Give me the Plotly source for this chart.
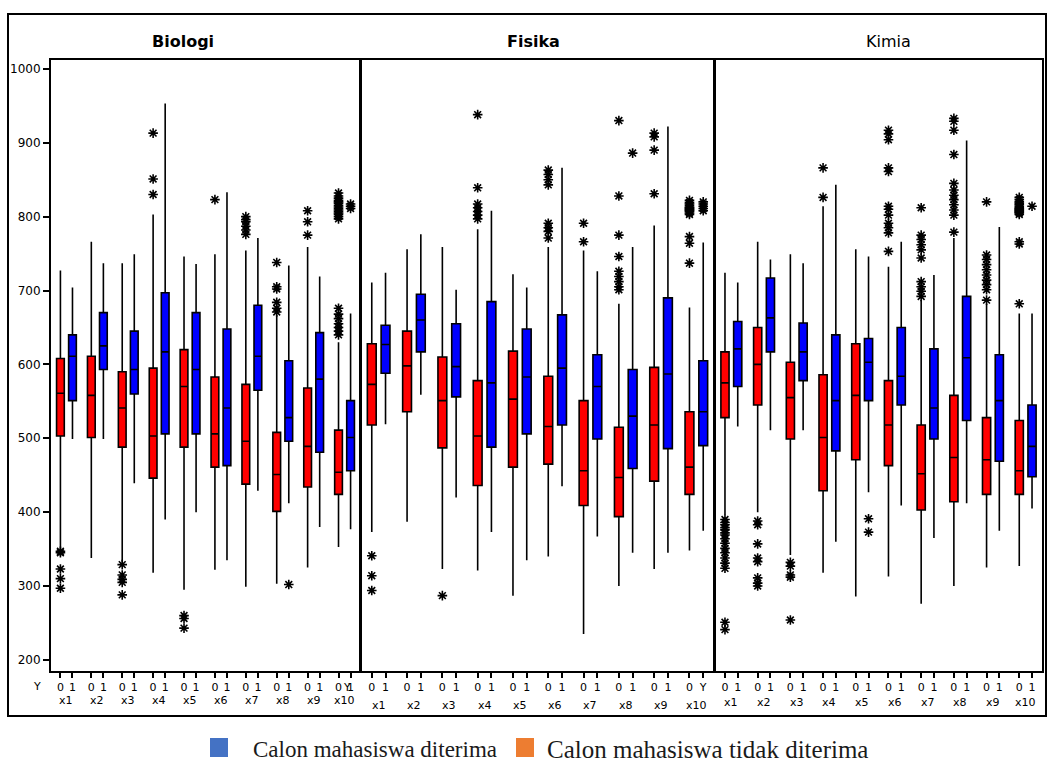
import plotly.graph_objects as go

# ---------------------------------------------------------------- data
subjects = ["Biologi", "Fisika", "Kimia"]
group_labels = ["x1", "x2", "x3", "x4", "x5", "x6", "x7", "x8", "x9", "x10"]
y_ticks = [200, 300, 400, 500, 600, 700, 800, 900, 1000]
legend_labels = ["Calon mahasiswa diterima", "Calon mahasiswa tidak diterima"]

# Y = 0 (tidak diterima), Biologi
bio0_lo = [351, 338, 333, 318, 295, 322, 299, 303, 325, 353]
bio0_q1 = [503, 501, 488, 446, 488, 461, 438, 401, 434, 424]
bio0_med = [561, 558, 541, 503, 570, 506, 496, 451, 489, 454]
bio0_q3 = [608, 611, 590, 595, 620, 583, 573, 508, 568, 511]
bio0_hi = [727, 766, 737, 803, 746, 749, 754, 667, 759, 630]
bio0_out = [
    [347, 345, 323, 310, 297],
    [],
    [329, 315, 309, 305, 288],
    [913, 851, 830],
    [260, 256, 243],
    [823],
    [800, 796, 793, 787, 782, 776],
    [738, 705, 702, 684, 676, 671],
    [808, 793, 775],
    [832, 828, 825, 822, 820, 818, 815, 813, 811, 809, 807, 805, 803, 800, 797,
     676, 668, 662, 655, 650, 645, 640],
]
# Y = 1 (diterima), Biologi
bio1_lo = [499, 499, 439, 390, 400, 335, 429, 412, 380, 377]
bio1_q1 = [551, 593, 560, 506, 506, 463, 565, 496, 481, 456]
bio1_med = [611, 625, 593, 617, 593, 541, 611, 528, 580, 501]
bio1_q3 = [640, 670, 645, 697, 670, 648, 680, 605, 643, 551]
bio1_hi = [704, 737, 749, 953, 736, 833, 771, 734, 719, 669]
bio1_out = [[], [], [], [], [], [], [], [302], [], [817, 814, 811]]

# Fisika
fis0_lo = [373, 387, 323, 321, 287, 340, 235, 300, 323, 348]
fis0_q1 = [518, 536, 487, 436, 461, 465, 409, 394, 442, 424]
fis0_med = [573, 598, 551, 503, 553, 516, 456, 447, 518, 461]
fis0_q3 = [628, 645, 610, 578, 618, 584, 551, 515, 596, 536]
fis0_hi = [711, 756, 759, 783, 722, 759, 754, 682, 788, 677]
fis0_out = [
    [341, 314, 294],
    [],
    [287],
    [938, 839, 817, 812, 807, 802, 797],
    [],
    [863, 857, 850, 843, 791, 785, 780, 771],
    [791, 766],
    [930, 828, 775, 746, 726, 719, 712, 705, 701],
    [913, 908, 890, 831],
    [822, 819, 817, 815, 813, 812, 811, 810, 809, 808, 807, 805, 803,
     773, 764, 737],
]
fis1_lo = [519, 559, 420, 373, 335, 435, 367, 345, 345, 375]
fis1_q1 = [588, 617, 556, 488, 506, 518, 499, 459, 486, 490]
fis1_med = [627, 660, 597, 575, 583, 595, 570, 530, 587, 536]
fis1_q3 = [653, 695, 655, 685, 648, 667, 613, 593, 690, 605]
fis1_hi = [724, 776, 701, 808, 704, 866, 726, 759, 922, 765]
fis1_out = [[], [], [], [], [], [], [], [886], [], [820, 817, 814, 811, 808]]

# Kimia
kim0_lo = [396, 400, 342, 318, 286, 313, 276, 300, 325, 327]
kim0_q1 = [528, 545, 499, 429, 471, 463, 403, 414, 424, 424]
kim0_med = [575, 600, 555, 501, 558, 518, 452, 474, 471, 456]
kim0_q3 = [617, 650, 603, 586, 628, 578, 518, 558, 528, 524]
kim0_hi = [724, 766, 749, 814, 756, 732, 687, 771, 682, 669]
kim0_out = [
    [390, 386, 383, 379, 376, 372, 369, 364, 358, 351, 345, 338, 331, 324, 251, 241],
    [388, 383, 357, 338, 333, 311, 304, 300],
    [332, 327, 315, 312, 254],
    [866, 826],
    [],
    [917, 912, 904, 866, 861, 814, 810, 802, 791, 785, 778, 753],
    [812, 775, 769, 762, 755, 744, 712, 705, 699, 692],
    [933, 929, 917, 884, 845, 836, 829, 823, 816, 809, 802, 779],
    [820, 748, 742, 735, 728, 721, 714, 708, 701, 687],
    [826, 823, 820, 818, 816, 814, 812, 811, 810, 809, 808, 807, 806, 805, 803,
     766, 763, 682],
]
kim1_lo = [516, 511, 511, 360, 427, 409, 365, 412, 375, 405]
kim1_q1 = [570, 617, 578, 483, 551, 545, 499, 524, 469, 448]
kim1_med = [621, 663, 617, 551, 603, 584, 541, 609, 551, 489]
kim1_q3 = [658, 717, 656, 640, 635, 650, 621, 692, 613, 545]
kim1_hi = [711, 742, 737, 843, 746, 766, 721, 903, 786, 669]
kim1_out = [[], [], [], [], [391, 373], [], [], [], [], [814]]

# ---------------------------------------------------------------- layout helpers
W, H = 1053, 765
RED, BLUE = "#FF0000", "#0000FF"
OFF = 0.195          # half distance between the "0" and "1" boxes of a group
BOX_W = 0.25
TICK_FONT = dict(family="DejaVu Sans", size=11, color="black")


def fx(p):
    return p / W


def fy(p):
    return 1 - p / H


panel_px = [(51, 360), (361, 714), (715, 1042)]
y_dom = [fy(671), fy(60)]
axis_ids = ["", "2", "3"]

stats = [
    [(bio0_lo, bio0_q1, bio0_med, bio0_q3, bio0_hi, bio0_out),
     (bio1_lo, bio1_q1, bio1_med, bio1_q3, bio1_hi, bio1_out)],
    [(fis0_lo, fis0_q1, fis0_med, fis0_q3, fis0_hi, fis0_out),
     (fis1_lo, fis1_q1, fis1_med, fis1_q3, fis1_hi, fis1_out)],
    [(kim0_lo, kim0_q1, kim0_med, kim0_q3, kim0_hi, kim0_out),
     (kim1_lo, kim1_q1, kim1_med, kim1_q3, kim1_hi, kim1_out)],
]

fig = go.Figure()
n = len(group_labels)

for p, aid in enumerate(axis_ids):
    xa, ya = "x" + aid, "y" + aid
    for g, colour in enumerate([RED, BLUE]):
        lo, q1, med, q3, hi, out = stats[p][g]
        pos = [i + (2 * g - 1) * OFF for i in range(n)]
        fig.add_trace(go.Box(
            x=pos, lowerfence=lo, q1=q1, median=med, q3=q3, upperfence=hi,
            orientation="v", width=BOX_W, whiskerwidth=0, boxpoints=False,
            fillcolor=colour, line=dict(color="black", width=1.6),
            xaxis=xa, yaxis=ya, showlegend=False, hoverinfo="skip",
        ))
        ox, oy = [], []
        for i, vals in enumerate(out):
            ox += [pos[i]] * len(vals)
            oy += vals
        fig.add_trace(go.Scatter(
            x=ox, y=oy, mode="markers", xaxis=xa, yaxis=ya,
            marker=dict(symbol="asterisk-open", size=8, color="black",
                        line=dict(color="black", width=1.6)),
            showlegend=False, hoverinfo="skip",
        ))

layout = dict(
    width=W, height=H, plot_bgcolor="white", paper_bgcolor="white",
    margin=dict(l=0, r=0, t=0, b=0, autoexpand=False),
    boxmode="overlay", showlegend=False,
)

for p, aid in enumerate(axis_ids):
    x0, x1 = panel_px[p]
    tickvals, ticktext = [], []
    for i in range(n):
        tickvals += [i - OFF, i + OFF]
        ticktext += ["0", "1"]
    if p == 1:
        ticktext[-1] = "Y"
    layout["xaxis" + aid] = dict(
        domain=[fx(x0), fx(x1)], range=[-0.5, 9.5], anchor="y" + aid,
        tickvals=tickvals, ticktext=ticktext, ticks="outside", ticklen=5,
        tickwidth=1.5, tickcolor="black", tickfont=TICK_FONT,
        showline=True, mirror=True, linecolor="black", linewidth=2,
        showgrid=False, zeroline=False,
    )
    yax = dict(
        domain=y_dom, range=[185, 1012], anchor="x" + aid,
        showline=True, mirror=True, linecolor="black", linewidth=2,
        showgrid=False, zeroline=False,
    )
    if p == 0:
        yax.update(tickvals=y_ticks, ticks="outside", ticklen=6, tickwidth=1.5,
                   tickcolor="black",
                   tickfont=dict(family="DejaVu Sans", size=12, color="black"))
    else:
        yax.update(matches="y", showticklabels=False, ticks="")
    layout["yaxis" + aid] = yax

fig.update_layout(**layout)

# group names under each pair of ticks
label_rows = [700, 705, 702]
for p, aid in enumerate(axis_ids):
    for i, lab in enumerate(group_labels):
        fig.add_annotation(x=i, y=fy(label_rows[p]), xref="x" + aid, yref="paper",
                           text=lab, showarrow=False, font=TICK_FONT,
                           xanchor="center", yanchor="middle")

# "Y" captions of the category axis
fig.add_annotation(x=fx(37), y=fy(686), xref="paper", yref="paper", text="Y",
                   showarrow=False, font=TICK_FONT, xanchor="center", yanchor="middle")
fig.add_annotation(x=fx(347), y=fy(687), xref="paper", yref="paper", text="Y",
                   showarrow=False, font=TICK_FONT, xanchor="center", yanchor="middle")

# panel titles
title_x = [183, 533, 888]
for p, name in enumerate(subjects):
    txt = name if p == 2 else "<b>" + name + "</b>"
    fig.add_annotation(x=fx(title_x[p]), y=fy(41), xref="paper", yref="paper",
                       text=txt, showarrow=False,
                       font=dict(family="DejaVu Sans", size=16, color="black"),
                       xanchor="center", yanchor="middle")

# outer frame
fig.add_shape(type="rect", xref="paper", yref="paper",
              x0=fx(8), x1=fx(1046), y0=fy(716), y1=fy(14),
              line=dict(color="black", width=2))

# legend
legend_items = [("#4472C4", 210, 251, 23), ("#ED7D31", 516, 545, 25)]
for (colour, sx, tx, fs), lab in zip(legend_items, legend_labels):
    fig.add_shape(type="rect", xref="paper", yref="paper",
                  x0=fx(sx), x1=fx(sx + 18), y0=fy(757), y1=fy(738),
                  fillcolor=colour, line=dict(width=0))
    fig.add_annotation(x=fx(tx), y=fy(749), xref="paper", yref="paper", text=lab,
                       showarrow=False, xanchor="left", yanchor="middle",
                       font=dict(family="Liberation Serif", size=fs, color="#1a1a1a"))

fig.write_html("out.html")
